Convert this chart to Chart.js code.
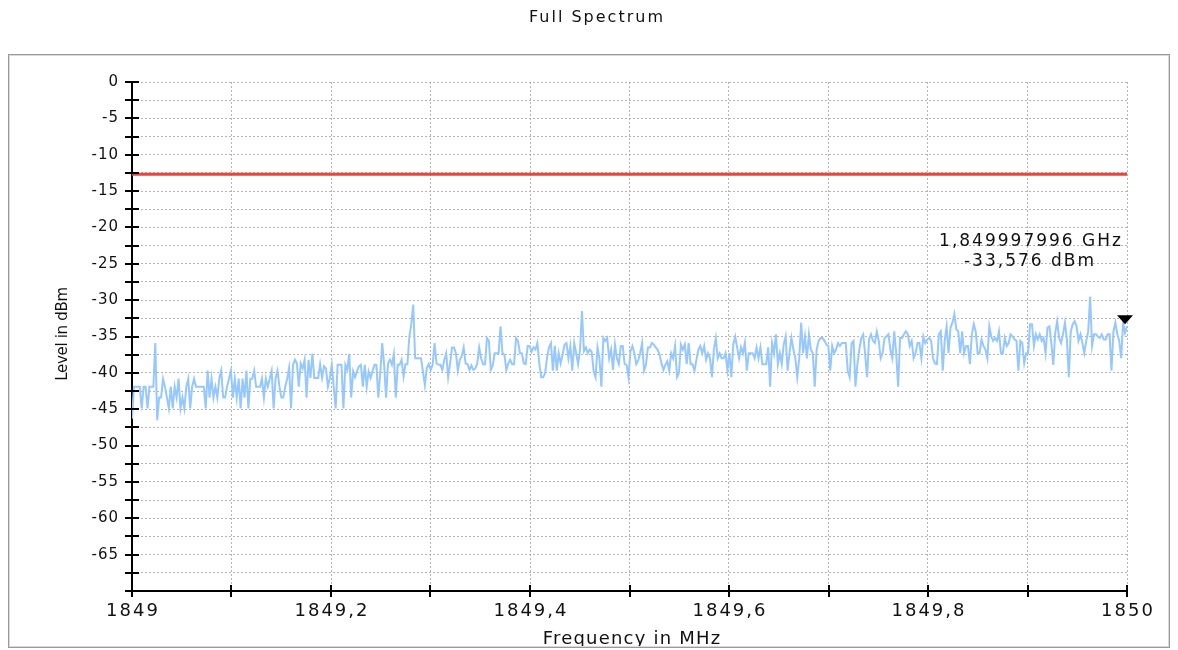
<!DOCTYPE html>
<html>
<head>
<meta charset="utf-8">
<title>Full Spectrum</title>
<script src="https://cdn.jsdelivr.net/npm/chart.js@4.4.1/dist/chart.umd.min.js"></script>
<style>
  html, body { margin: 0; padding: 0; background: #fff; }
  canvas { display: block; }
</style>
</head>
<body>
<canvas id="spectrum" width="1178" height="650"></canvas>
<script>
// Sweep settings (MHz)
const freqStart = 1849;
const freqStop = 1850;

// Measured trace, dBm, one value per sweep point from 1849 to 1850 MHz
const traceLevels = [
  -46.3, -41.9, -41.9, -41.9, -41.9, -44.9, -41.9, -41.9, -44.9, -41.9, -41.9, -41.9, -35.9, -46.5, -43.4, -43.4,
  -40.8, -41.9, -43.4, -44.9, -41.9, -44.9, -41.9, -43.4, -40.8, -44.9, -43.4, -44.9, -41.9, -40.8, -44.9, -41.9,
  -40.8, -41.9, -41.9, -41.9, -41.9, -41.9, -44.9, -39.7, -43.4, -40.8, -43.4, -41.9, -43.4, -40.8, -39.7, -43.4,
  -43.4, -41.9, -40.8, -39.7, -43.4, -40.8, -43.4, -40.8, -44.9, -40.8, -43.4, -39.7, -44.9, -40.8, -40.8, -39.7,
  -41.9, -41.9, -41.9, -40.8, -43.4, -40.8, -41.9, -40.8, -39.7, -44.9, -40.8, -39.7, -41.9, -43.4, -43.4, -41.9,
  -40.8, -39.3, -44.9, -38.9, -38.2, -38.7, -41.9, -38.7, -39.4, -38.2, -43.4, -38.2, -40.7, -37.4, -40.7, -40.7,
  -40.7, -38.8, -40.7, -39.1,
  -39.4, -41.9, -40.7, -38.9, -41.9, -44.9, -38.9, -38.9, -38.9, -44.9, -38.9, -39.6, -37.4, -43.4, -39.8, -40.6,
  -39.8, -39.1, -38.9, -41.9, -38.9, -41.9, -39.8, -40.7, -39.8, -38.9, -38.9, -43.4, -40.0, -35.9, -38.9, -43.4,
  -38.7, -38.2, -38.9, -37.4, -43.4, -38.9, -38.9, -38.2, -40.5, -38.8, -38.8, -35.0, -33.3, -30.6, -38.0, -38.0,
  -38.0, -38.0, -39.8, -41.7, -39.3, -38.8, -39.6, -38.9, -35.9, -38.7, -38.9, -38.9, -39.6, -38.2, -37.3, -40.6,
  -38.7, -36.5, -36.5, -37.3, -39.7, -38.2, -37.7, -36.5, -38.7, -38.8, -39.6, -39.0, -39.6, -39.4, -38.7, -36.5,
  -38.0, -38.8, -38.8, -35.2, -35.6, -39.6, -39.0, -37.3, -37.3, -37.3, -33.6, -37.3, -37.5, -39.6, -38.7, -38.2,
  -38.8, -38.8, -35.2, -35.6, -37.3, -37.3, -38.7, -38.8, -36.3,
  -36.3, -37.1, -36.5, -36.8, -35.9, -38.7, -40.6, -40.6, -40.0, -37.9, -36.5, -35.9, -39.7, -36.3, -39.7, -37.3,
  -38.7, -37.5, -36.1, -35.9, -38.0, -36.3, -39.7, -35.9, -37.3, -38.8, -36.8, -31.5, -37.0, -36.5, -37.3, -36.8,
  -37.1, -39.8, -40.6, -36.5, -38.0, -41.9, -35.2, -35.6, -35.2, -38.0, -36.8, -39.6, -36.1, -38.0, -38.8, -36.3,
  -36.3, -38.8, -38.9, -40.6, -37.0, -36.3, -37.3, -38.8, -38.3, -37.3, -35.9, -39.7, -38.9, -36.5, -36.5, -35.9,
  -36.1, -36.5, -36.8, -37.5, -38.7, -39.6, -38.9, -38.4, -39.7, -37.3, -38.0, -36.3, -40.6, -40.0, -36.1, -36.8,
  -36.1, -38.8, -35.9, -38.8, -38.8, -39.7, -38.2, -36.8, -36.3, -37.3, -36.3, -38.2, -37.3, -38.0, -40.6, -36.8,
  -35.2, -38.0, -37.3, -38.0, -38.0, -37.3, -39.6,
  -37.3, -40.6, -36.1, -35.0, -36.5, -38.0, -36.5, -37.3, -35.9, -39.7, -37.3, -37.3, -37.3, -38.0, -36.5, -38.0,
  -36.5, -38.8, -38.8, -38.8, -36.5, -41.9, -35.9, -37.3, -34.7, -38.8, -37.3, -38.8, -36.1, -35.0, -39.7, -37.3,
  -35.2, -36.8, -38.0, -40.6, -38.0, -33.1, -37.3, -35.0, -38.0, -34.7, -36.8, -37.3, -41.9, -36.8, -35.6, -35.2,
  -35.2, -35.6, -36.1, -36.3, -39.7, -36.3, -37.3, -36.8, -35.9, -36.3, -35.9, -35.9, -35.9, -39.7, -40.6, -35.9,
  -35.6, -41.9, -38.8, -36.8, -35.2, -34.7, -37.5, -40.6, -35.4, -34.7, -35.6, -35.9, -34.3, -35.6, -38.0, -37.3,
  -35.2, -35.0, -34.7, -36.8, -38.0, -34.3, -37.3, -41.9, -35.2, -35.2, -34.7, -34.3, -34.7, -36.3, -35.6, -38.0,
  -37.3, -35.9, -35.9, -38.0, -35.0, -35.9, -35.4,
  -35.2, -35.6, -38.0, -38.7, -38.8, -34.7, -34.3, -39.7, -35.6, -33.6, -37.3, -33.8, -33.1, -31.9, -34.0, -34.3,
  -37.3, -34.3, -37.3, -36.3, -36.3, -38.8, -34.7, -33.3, -34.3, -37.3, -37.3, -35.4, -36.3, -36.8, -38.0, -33.6,
  -35.0, -35.6, -35.2, -35.6, -34.3, -37.3, -37.3, -35.2, -36.3, -35.9, -34.7, -35.0, -35.4, -35.6, -39.7, -35.6,
  -35.9, -38.7, -37.3, -37.3, -33.3, -33.3, -36.3, -34.7, -35.4, -34.7, -35.6, -35.2, -37.3, -33.8, -33.6, -35.9,
  -38.9, -34.5, -32.9, -35.2, -35.9, -34.7, -33.1, -35.4, -40.6, -34.3, -33.3, -32.9, -33.6, -35.6, -34.7, -35.9,
  -37.3, -35.6, -34.3, -29.5, -36.3, -34.7, -34.7, -35.0, -35.2, -34.7, -35.4, -35.4, -34.7, -34.7, -39.7, -34.3,
  -33.1, -34.7, -35.6, -38.0, -33.1, -34.5, -33.576
];

// Limit line and marker readout
const limitLevel = -12.7;
const markerFreq = 1849.997996;
const markerLevel = -33.576;

// Axis labels
const xLabels = ['1849', '1849,2', '1849,4', '1849,6', '1849,8', '1850'];
const yLabels = ['0', '-5', '-10', '-15', '-20', '-25', '-30', '-35', '-40', '-45', '-50', '-55', '-60', '-65'];

const step = (freqStop - freqStart) / (traceLevels.length - 1);
const tracePoints = traceLevels.map((v, i) => ({ x: freqStart + i * step, y: v }));

const FONT = '"DejaVu Sans", "Liberation Sans", sans-serif';

const spectrumDecor = {
  id: 'spectrumDecor',
  beforeDraw(chart) {
    const c = chart.ctx;
    c.save();
    c.fillStyle = '#fff';
    c.fillRect(0, 0, chart.width, chart.height);
    c.restore();
  },
  afterDraw(chart) {
    const c = chart.ctx;
    const xs = chart.scales.x;
    const ys = chart.scales.y;
    const area = chart.chartArea;
    c.save();

    // tick marks crossing both axes
    c.strokeStyle = '#000';
    c.lineWidth = 2;
    ys.ticks.forEach(t => {
      const py = Math.round(ys.getPixelForValue(t.value));
      c.beginPath();
      c.moveTo(area.left - 7, py);
      c.lineTo(area.left + 7, py);
      c.stroke();
    });
    xs.ticks.forEach(t => {
      const px = Math.round(xs.getPixelForValue(t.value));
      c.beginPath();
      c.moveTo(px, area.bottom - 6);
      c.lineTo(px, area.bottom + 6);
      c.stroke();
    });

    // tick labels
    c.fillStyle = '#111';
    c.font = '15px ' + FONT;
    c.letterSpacing = '1px';
    c.textAlign = 'right';
    c.textBaseline = 'middle';
    ys.ticks.forEach(t => {
      const v = Math.round(t.value * 10) / 10;
      if (v % 5 !== 0 || v <= -70) return;
      c.fillText(yLabels[-v / 5], area.left - 13, ys.getPixelForValue(v));
    });
    c.font = '18px ' + FONT;
    c.letterSpacing = '2px';
    c.textAlign = 'center';
    xs.ticks.forEach((t, i) => {
      if (i % 2 !== 0) return;
      c.fillText(xLabels[i / 2], xs.getPixelForValue(t.value) + 1, area.bottom + 20);
    });

    // marker triangle and readout
    const mx = xs.getPixelForValue(markerFreq);
    const my = ys.getPixelForValue(markerLevel);
    c.fillStyle = '#000';
    c.beginPath();
    c.moveTo(mx - 8, my - 11);
    c.lineTo(mx + 8, my - 11);
    c.lineTo(mx, my - 2);
    c.closePath();
    c.fill();

    c.fillStyle = '#111';
    c.font = '17px ' + FONT;
    c.letterSpacing = '2px';
    c.textAlign = 'center';
    c.fillText((markerFreq / 1000).toFixed(9).replace('.', ',') + ' GHz', 1031, 242);
    c.fillText(markerLevel.toFixed(3).replace('.', ',') + ' dBm', 1030, 262);

    // titles
    c.font = '16px ' + FONT;
    c.letterSpacing = '2px';
    c.fillText('Full Spectrum', 597, 18);

    c.letterSpacing = '1.2px';
    c.font = '18px ' + FONT;
    c.textBaseline = 'alphabetic';
    c.fillText('Frequency in MHz', 632, 644);

    c.save();
    c.translate(63, 334);
    c.rotate(-Math.PI / 2);
    c.letterSpacing = '-0.3px';
    c.font = '15px ' + FONT;
    c.textBaseline = 'middle';
    c.fillText('Level in dBm', 0, 0);
    c.restore();

    // outer frame
    c.lineWidth = 1;
    c.strokeStyle = '#9a9a9a';
    c.strokeRect(8.5, 54.5, 1161, 593);
    c.strokeStyle = '#dadada';
    c.strokeRect(9.5, 55.5, 1159, 591);
    c.restore();
  }
};

const gridStyle = { color: '#b4b4b4', lineWidth: 1, drawTicks: false };
const borderStyle = { color: '#000', width: 2, dash: [2, 2] };

new Chart(document.getElementById('spectrum'), {
  type: 'line',
  data: {
    datasets: [
      {
        data: tracePoints,
        borderColor: '#96c8ff',
        borderWidth: 2,
        pointRadius: 0,
        tension: 0
      },
      {
        data: [{ x: freqStart, y: limitLevel }, { x: freqStop, y: limitLevel }],
        borderColor: '#e8453c',
        borderWidth: 3,
        pointRadius: 0
      }
    ]
  },
  options: {
    responsive: false,
    animation: false,
    layout: { padding: { top: 82, right: 51, left: 0, bottom: 0 } },
    plugins: {
      legend: { display: false },
      tooltip: { enabled: false }
    },
    scales: {
      x: {
        type: 'linear',
        min: freqStart,
        max: freqStop,
        ticks: { stepSize: 0.1, display: false },
        grid: gridStyle,
        border: borderStyle,
        afterFit(scale) { scale.height = 59; }
      },
      y: {
        type: 'linear',
        min: -70,
        max: 0,
        ticks: { stepSize: 2.5, display: false },
        grid: gridStyle,
        border: borderStyle,
        afterFit(scale) { scale.width = 132; }
      }
    }
  },
  plugins: [spectrumDecor]
});
</script>
</body>
</html>
